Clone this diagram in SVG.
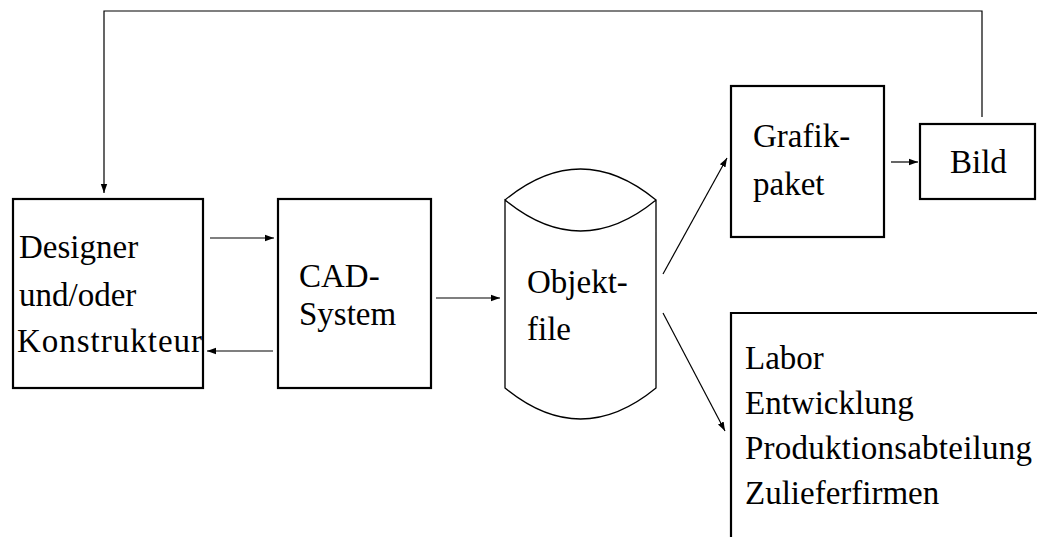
<svg xmlns="http://www.w3.org/2000/svg" width="1037" height="537" viewBox="0 0 1037 537">
<defs>
<marker id="ah" markerWidth="10" markerHeight="8" refX="9" refY="4" orient="auto" markerUnits="userSpaceOnUse">
<path d="M0,0.8 L9,4 L0,7.2 Z" fill="#000"/>
</marker>
</defs>
<rect width="1037" height="537" fill="#fff"/>
<g id="connectors" fill="none" stroke="#000" stroke-width="1.2" marker-end="url(#ah)">
<path d="M982,117 L982,11 L104,11 L104,193"/>
<path d="M210,238 L274,238"/>
<path d="M273,351 L207,351"/>
<path d="M436,298 L500,298"/>
<path d="M663,274 L727,158"/>
<path d="M663,313 L725,431"/>
<path d="M891,162 L918,162"/>
</g>
<g id="designer">
<rect x="13" y="199" width="190" height="189" fill="none" stroke="#000" stroke-width="2.2"/>
<text x="19" y="258" font-family="Liberation Serif" font-size="33">Designer</text>
<text x="19" y="306" font-family="Liberation Serif" font-size="33">und/oder</text>
<text x="17" y="352" font-family="Liberation Serif" font-size="33" textLength="185" lengthAdjust="spacing">Konstrukteur</text>
</g>
<g id="cad">
<rect x="278" y="199" width="153" height="189" fill="none" stroke="#000" stroke-width="2.2"/>
<text x="299" y="287" font-family="Liberation Serif" font-size="33">CAD-</text>
<text x="299" y="325" font-family="Liberation Serif" font-size="33">System</text>
</g>
<g id="objektfile">
<path d="M505,200 Q580.5,138 656,200 Q580.5,262 505,200 L505,388 Q580.5,450 656,388 L656,200" fill="none" stroke="#000" stroke-width="1.3"/>
<text x="527" y="293" font-family="Liberation Serif" font-size="33">Objekt-</text>
<text x="527" y="340" font-family="Liberation Serif" font-size="33">file</text>
</g>
<g id="grafikpaket">
<rect x="731" y="86" width="153" height="151" fill="none" stroke="#000" stroke-width="2.2"/>
<text x="753" y="147" font-family="Liberation Serif" font-size="33">Grafik-</text>
<text x="753" y="195" font-family="Liberation Serif" font-size="33">paket</text>
</g>
<g id="bild">
<rect x="920" y="124" width="115" height="75" fill="none" stroke="#000" stroke-width="2.2"/>
<text x="950" y="173" font-family="Liberation Serif" font-size="33">Bild</text>
</g>
<g id="abteilungen">
<path d="M1040,313 L731,313 L731,540" fill="none" stroke="#000" stroke-width="2.2"/>
<text x="745" y="369" font-family="Liberation Serif" font-size="33">Labor</text>
<text x="745" y="414" font-family="Liberation Serif" font-size="33">Entwicklung</text>
<text x="745" y="459" font-family="Liberation Serif" font-size="33" textLength="287" lengthAdjust="spacing">Produktionsabteilung</text>
<text x="745" y="504" font-family="Liberation Serif" font-size="33">Zulieferfirmen</text>
</g>
</svg>
